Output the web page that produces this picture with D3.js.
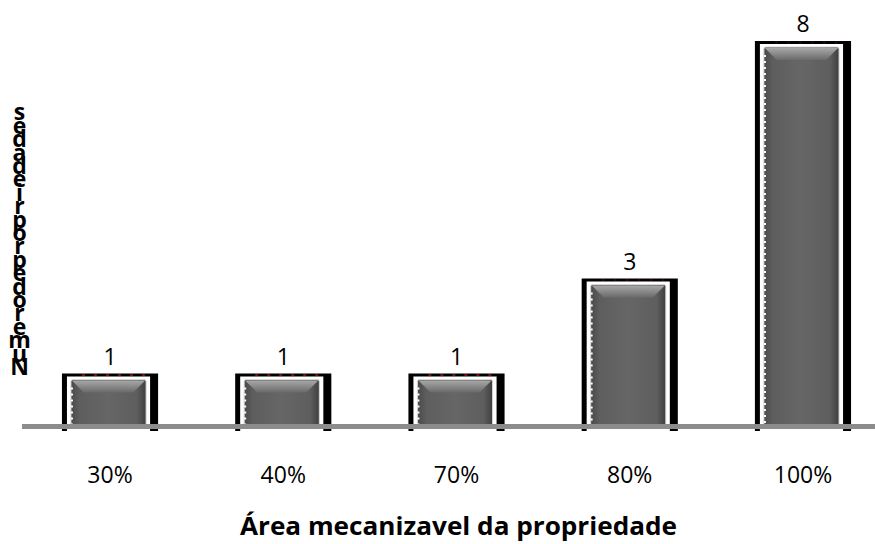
<!DOCTYPE html>
<html><head><meta charset="utf-8">
<script src="https://cdn.jsdelivr.net/npm/d3@7"></script>
<style>body{margin:0;background:#fff}svg{display:block}</style>
</head><body>
<svg id="c" width="875" height="544"></svg>
<script>
const categories = ["30%", "40%", "70%", "80%", "100%"];
const values = [1, 1, 1, 3, 8];
const xTitle = "Área mecanizavel da propriedade";
const yTitle = "Numero de propriedades";

const svg = d3.select("#c");
const font = "'Open Sans', Lato, sans-serif";

const x = d3.scaleBand().domain(categories).range([23.4, 889.6]).padding(0);
const y = d3.scaleLinear().domain([0, 8]).range([421, 41]);
const axisY = 426.5;

const defs = svg.append("defs");
const g1 = defs.append("linearGradient").attr("id","gh").attr("x1",0).attr("x2",1).attr("y1",0).attr("y2",0);
g1.append("stop").attr("offset","0").attr("stop-color","#4a4a4a");
g1.append("stop").attr("offset","0.12").attr("stop-color","#5e5e5e");
g1.append("stop").attr("offset","0.5").attr("stop-color","#666");
g1.append("stop").attr("offset","0.88").attr("stop-color","#5e5e5e");
g1.append("stop").attr("offset","1").attr("stop-color","#3e3e3e");
const g2 = defs.append("linearGradient").attr("id","gt").attr("x1",0).attr("x2",0).attr("y1",0).attr("y2",1);
g2.append("stop").attr("offset","0").attr("stop-color","#a8a8a8");
g2.append("stop").attr("offset","1").attr("stop-color","#6a6a6a");

const fw = x.bandwidth() * 0.555;
const bars = svg.append("g").selectAll("g").data(values).join("g")
  .attr("transform", (d, i) => `translate(${x(categories[i]) + x.bandwidth()/2 - fw/2},0)`);

// black frame
bars.append("rect").attr("x", 0).attr("y", d => y(d)).attr("width", fw)
  .attr("height", d => 431 - y(d)).attr("fill", "#000");
// white inner
bars.append("rect").attr("x", 5).attr("y", d => y(d) + 3).attr("width", fw - 13)
  .attr("height", d => 431 - y(d) - 3).attr("fill", "#fff");
// faint red marks on the top border
bars.append("line").attr("x1", 20).attr("x2", fw - 8).attr("y1", d => y(d) + 1.5).attr("y2", d => y(d) + 1.5)
  .attr("stroke", "#8b1010").attr("stroke-width", 2).attr("stroke-dasharray", "3,9").attr("opacity", d => d < 3 ? 0.9 : 0.3);
// gray bar body
bars.append("rect").attr("x", 9).attr("y", d => y(d) + 6).attr("width", fw - 21)
  .attr("height", d => axisY - y(d) - 6).attr("rx", 2)
  .attr("fill", "url(#gh)").attr("stroke", "#d8d8d8").attr("stroke-width", 1);
// top bevel
bars.append("path").attr("d", d => {
  const t = y(d) + 7, l = 10, r = fw - 13, h = 12;
  return `M${l},${t}H${r}L${r-12},${t+h}H${l+12}Z`;
}).attr("fill", "url(#gt)");
// white dashes left edge
bars.append("line").attr("x1", 10).attr("x2", 10).attr("y1", d => y(d) + 14).attr("y2", axisY - 2)
  .attr("stroke", "#fff").attr("stroke-width", 2).attr("stroke-dasharray", "2,4");
// value labels
bars.append("text").attr("x", fw/2).attr("y", d => y(d) - 9).attr("text-anchor","middle")
  .attr("font-family", font).attr("font-size", 23).attr("fill","#000").text(d => d);

// axis line
svg.append("line").attr("x1", 22).attr("x2", 875).attr("y1", axisY).attr("y2", axisY)
  .attr("stroke", "#8c8c8c").attr("stroke-width", 5);

// category labels
svg.append("g").selectAll("text").data(categories).join("text")
  .attr("x", d => x(d) + x.bandwidth()/2).attr("y", 483).attr("text-anchor","middle")
  .attr("font-family", font).attr("font-size", 23).attr("fill","#000").text(d => d);

// x title
svg.append("text").attr("x", 458.5).attr("y", 535).attr("text-anchor","middle")
  .attr("font-family", font).attr("font-size", 25).attr("font-weight","bold")
  .attr("textLength", 437).attr("lengthAdjust","spacingAndGlyphs").text(xTitle);

// y title: letters stacked upright, bottom to top, in one text element
const chars = yTitle.split("");
let slot = -1;
const slots = chars.map(c => (c === " " ? Math.max(slot, 0) : ++slot));
svg.append("text").attr("text-anchor","middle")
  .attr("font-family", font).attr("font-size", 23).attr("font-weight","bold").attr("fill","#000")
  .selectAll("tspan").data(chars).join("tspan")
  .attr("x", 19.5).attr("y", (d, i) => 375 - slots[i] * 13.4)
  .text(d => d);
</script>
</body></html>
